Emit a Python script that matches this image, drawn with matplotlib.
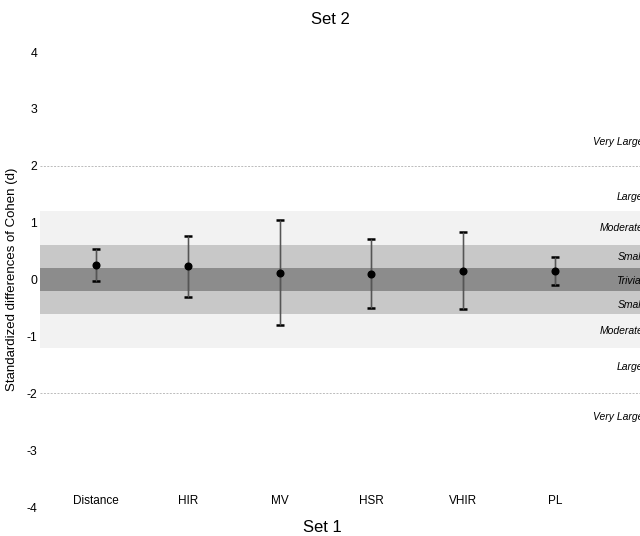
import numpy as np
import matplotlib
matplotlib.use('Agg')
import matplotlib.pyplot as plt
import matplotlib.transforms as mtransforms

plt.rcParams['font.family'] = ['Liberation Sans', 'DejaVu Sans']

# data
variables = ['Distance', 'HIR', 'MV', 'HSR', 'VHIR', 'PL']
effect = [0.26, 0.23, 0.12, 0.10, 0.15, 0.15]
ci_upper = [0.54, 0.77, 1.05, 0.71, 0.83, 0.40]
ci_lower = [-0.02, -0.30, -0.80, -0.50, -0.52, -0.09]

# magnitude bands (lower, upper) and colours
band_edges = [(-1.2, 1.2), (-0.6, 0.6), (-0.2, 0.2)]
band_colors = ['#f2f2f2', '#c8c8c8', '#8c8c8c']
dashed_levels = [2, -2]
zone_labels = ['Very Large', 'Large', 'Moderate', 'Small', 'Trivial',
               'Small', 'Moderate', 'Large', 'Very Large']
zone_label_y = [2.41, 1.45, 0.91, 0.40, -0.02, -0.44, -0.90, -1.53, -2.41]
yticks = [-4, -3, -2, -1, 0, 1, 2, 3, 4]

fig = plt.figure(figsize=(6.4, 5.36), dpi=100)
ax = fig.add_axes([40/640, 29/536, 606/640, 455/536])
ax.set_xlim(-0.61, 5.99)
ax.set_ylim(-4, 4)

for (lo, hi), c in zip(band_edges, band_colors):
    ax.axhspan(lo, hi, color=c, lw=0, zorder=0)
for lv in dashed_levels:
    ax.axhline(lv, color='#bbbbbb', lw=0.7, ls=(0, (2, 1.5)), zorder=1)

x = np.arange(len(variables))
eff = np.array(effect)
yerr = [eff - np.array(ci_lower), np.array(ci_upper) - eff]
# black caps first, then grey stems on top
ax.errorbar(x, eff, yerr=yerr, fmt='none', ecolor='black', elinewidth=0.9,
            capsize=3, capthick=1.8, zorder=3)
ax.errorbar(x, eff, yerr=yerr, fmt='none', ecolor='#555555', elinewidth=0.9,
            capsize=0, zorder=4)
ax.plot(x, eff, 'o', color='black', ms=4.8, zorder=5)

trans = mtransforms.blended_transform_factory(ax.transAxes, ax.transData)
for lab, yv in zip(zone_labels, zone_label_y):
    ax.text(0.9955, yv, lab, transform=trans, ha='right', va='center',
            fontsize=7.5, style='italic', color='black', zorder=6)

for xi, lab in zip(x, variables):
    ax.text(xi, -3.9, lab, ha='center', va='center', fontsize=8.5)

ax.set_yticks(yticks)
ax.set_yticklabels([str(t) for t in yticks], fontsize=8.8)
ax.tick_params(axis='y', length=0, pad=2)
ax.set_xticks([])
for s in ax.spines.values():
    s.set_visible(False)

ax.set_ylabel('Standardized differences of Cohen (d)', fontsize=9.5, labelpad=6)
fig.text(330/640, 1 - 20/536, 'Set 2', ha='center', va='center', fontsize=12)
fig.text(322/640, 1 - 528/536, 'Set 1', ha='center', va='center', fontsize=12)

fig.savefig('out.png', dpi=100)
